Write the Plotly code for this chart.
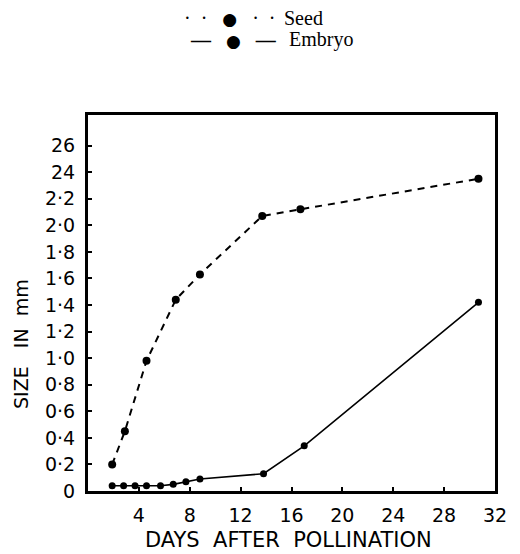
import plotly.graph_objects as go

# ---- data ----
seed_days = [1.9, 2.9, 4.6, 6.9, 8.8, 13.7, 16.7, 30.7]
seed_size = [0.20, 0.45, 0.98, 1.44, 1.63, 2.07, 2.12, 2.35]

embryo_days = [1.9, 2.8, 3.7, 4.6, 5.7, 6.7, 7.7, 8.8, 13.8, 17.0, 30.7]
embryo_size = [0.04, 0.04, 0.04, 0.04, 0.04, 0.05, 0.07, 0.09, 0.13, 0.34, 1.42]

x_ticks = [4, 8, 12, 16, 20, 24, 28, 32]
x_labels = ["4", "8", "12", "16", "20", "24", "28", "32"]
y_ticks = [0, 0.2, 0.4, 0.6, 0.8, 1.0, 1.2, 1.4, 1.6, 1.8, 2.0, 2.2, 2.4, 2.6]
y_labels = ["0", "0·2", "0·4", "0·6", "0·8", "1·0", "1·2", "1·4", "1·6",
            "1·8", "2·0", "2·2", "24", "26"]

# ---- geometry helpers (pixel layout) ----
W, H = 520, 554
L, R, T, B = 88, 495, 115, 491  # plot box in px
pw, ph = R - L, B - T


def px(xp):
    return (xp - L) / pw


def py(yp):
    return (B - yp) / ph


fig = go.Figure()

fig.add_trace(go.Scatter(
    x=seed_days, y=seed_size, mode="lines+markers", name="Seed",
    line=dict(color="black", width=2, dash="7px,6px"),
    marker=dict(color="black", size=8),
    showlegend=False,
))
fig.add_trace(go.Scatter(
    x=embryo_days, y=embryo_size, mode="lines+markers", name="Embryo",
    line=dict(color="black", width=1.6),
    marker=dict(color="black", size=7),
    showlegend=False,
))

tick_font = dict(family="DejaVu Sans", size=19, color="black")

fig.update_xaxes(
    range=[0, 32], tickvals=x_ticks, ticktext=x_labels,
    showline=True, linecolor="black", linewidth=3, mirror=True,
    ticks="inside", ticklen=4, tickwidth=2, tickcolor="black",
    showgrid=False, zeroline=False, tickfont=tick_font,
    ticklabelstandoff=5,
)
fig.update_yaxes(
    range=[0, 2.83], tickvals=y_ticks, ticktext=y_labels,
    showline=True, linecolor="black", linewidth=3, mirror=True,
    ticks="inside", ticklen=4, tickwidth=2, tickcolor="black",
    showgrid=False, zeroline=False, tickfont=tick_font,
    ticklabelstandoff=6,
)

serif = dict(family="Liberation Serif", size=20, color="black")
nb = "\u00a0"
dot = "<span style='font-family:DejaVu Sans;font-size:17px'>●</span>"

annotations = [
    # legend row 1
    dict(x=px(278), y=py(18), xref="paper", yref="paper", xanchor="right",
         yanchor="middle", showarrow=False,
         text=f"·{nb}{nb}·{nb}{nb}{nb}{dot}{nb}{nb}{nb}·{nb}{nb}·",
         font=serif),
    dict(x=px(282), y=py(18), xref="paper", yref="paper", xanchor="left",
         yanchor="middle", showarrow=False, text="Seed", font=serif),
    # legend row 2
    dict(x=px(279), y=py(40), xref="paper", yref="paper", xanchor="right",
         yanchor="middle", showarrow=False,
         text=f"<b>—</b>{nb}{nb}{nb}{dot}{nb}{nb}{nb}<b>—</b>",
         font=serif),
    dict(x=px(287), y=py(40), xref="paper", yref="paper", xanchor="left",
         yanchor="middle", showarrow=False, text="Embryo", font=serif),
    # axis titles
    dict(x=px(21), y=py(344), xref="paper", yref="paper", xanchor="center",
         yanchor="middle", showarrow=False, textangle=-90,
         text=f"SIZE{nb}{nb}{nb}IN{nb}{nb}mm",
         font=dict(family="DejaVu Sans", size=19, color="black")),
    dict(x=px(288), y=py(540), xref="paper", yref="paper", xanchor="center",
         yanchor="middle", showarrow=False,
         text=f"DAYS{nb}{nb}AFTER{nb}{nb}POLLINATION",
         font=dict(family="DejaVu Sans", size=21, color="black")),
]

fig.update_layout(
    width=W, height=H,
    margin=dict(l=L, r=W - R, t=T, b=H - B),
    paper_bgcolor="white", plot_bgcolor="white",
    annotations=annotations,
    showlegend=False,
)

fig.write_html("out.html")
